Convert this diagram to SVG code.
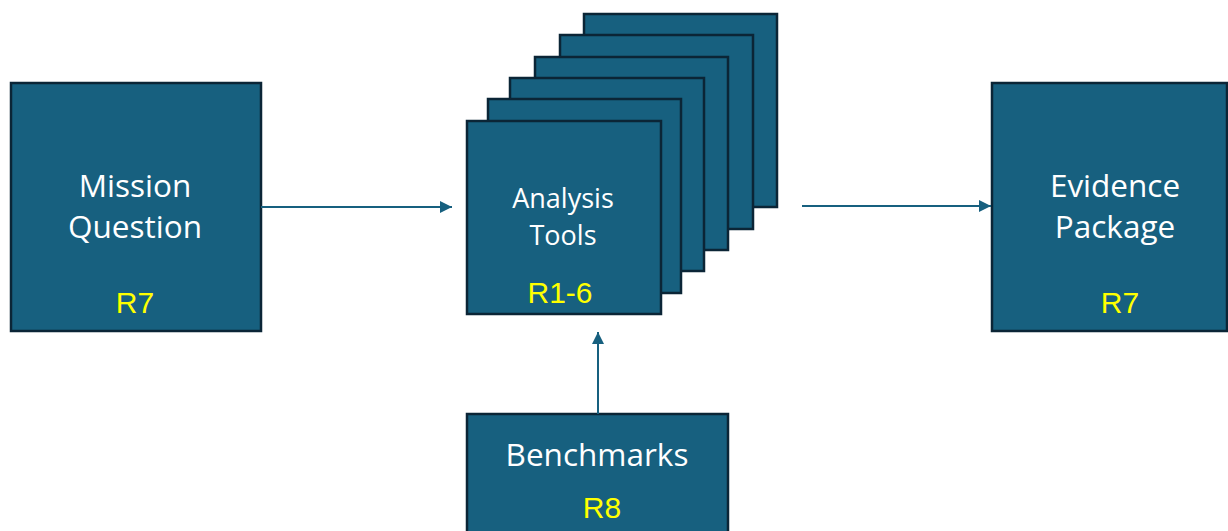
<svg xmlns="http://www.w3.org/2000/svg" width="1228" height="531" viewBox="0 0 1228 531">
  <style>
    .box { fill: #17607f; stroke: #0b2536; stroke-width: 2.5; }
    .lbl { font-family: "Open Sans", "Liberation Sans", sans-serif; fill: #ffffff; text-anchor: middle; }
    .req { font-family: "Liberation Sans", Arial, sans-serif; fill: #ffff00; text-anchor: middle; font-size: 30px; }
    .conn { stroke: #17607f; stroke-width: 2; fill: none; }
  </style>
  <defs>
    <marker id="arrow" viewBox="0 0 10 10" refX="10" refY="5" markerWidth="6" markerHeight="6" markerUnits="strokeWidth" orient="auto">
      <path d="M0,0 L10,5 L0,10 z" fill="#17607f"/>
    </marker>
  </defs>
  <rect width="1228" height="531" fill="#ffffff"/>

  <g id="mission-question">
    <rect class="box" x="11" y="83" width="250" height="248"/>
    <text class="lbl" x="135" y="197" font-size="31.5">Mission</text>
    <text class="lbl" x="135" y="238" font-size="31.5">Question</text>
    <text class="req" x="135" y="313">R7</text>
  </g>

  <g id="analysis-tools">
    <rect class="box" x="584" y="14" width="193" height="193"/>
    <rect class="box" x="560" y="35" width="193" height="194"/>
    <rect class="box" x="535" y="57" width="193" height="193"/>
    <rect class="box" x="510" y="78" width="194" height="193"/>
    <rect class="box" x="488" y="99" width="193" height="194"/>
    <rect class="box" x="467" y="121" width="194" height="193"/>
    <text class="lbl" x="563" y="208" font-size="27">Analysis</text>
    <text class="lbl" x="563" y="245" font-size="27">Tools</text>
    <text class="req" x="560" y="303">R1-6</text>
  </g>

  <g id="evidence-package">
    <rect class="box" x="992" y="83" width="235" height="248"/>
    <text class="lbl" x="1115" y="197" font-size="31.5">Evidence</text>
    <text class="lbl" x="1115" y="238" font-size="31.5">Package</text>
    <text class="req" x="1120" y="313">R7</text>
  </g>

  <g id="benchmarks">
    <rect class="box" x="467" y="414" width="261" height="130"/>
    <text class="lbl" x="597" y="466" font-size="31.5">Benchmarks</text>
    <text class="req" x="602" y="518">R8</text>
  </g>

  <g id="connectors">
    <line class="conn" x1="261" y1="207" x2="452" y2="207" marker-end="url(#arrow)"/>
    <line class="conn" x1="802" y1="206" x2="991" y2="206" marker-end="url(#arrow)"/>
    <line class="conn" x1="598" y1="414" x2="598" y2="332" marker-end="url(#arrow)"/>
  </g>
</svg>
